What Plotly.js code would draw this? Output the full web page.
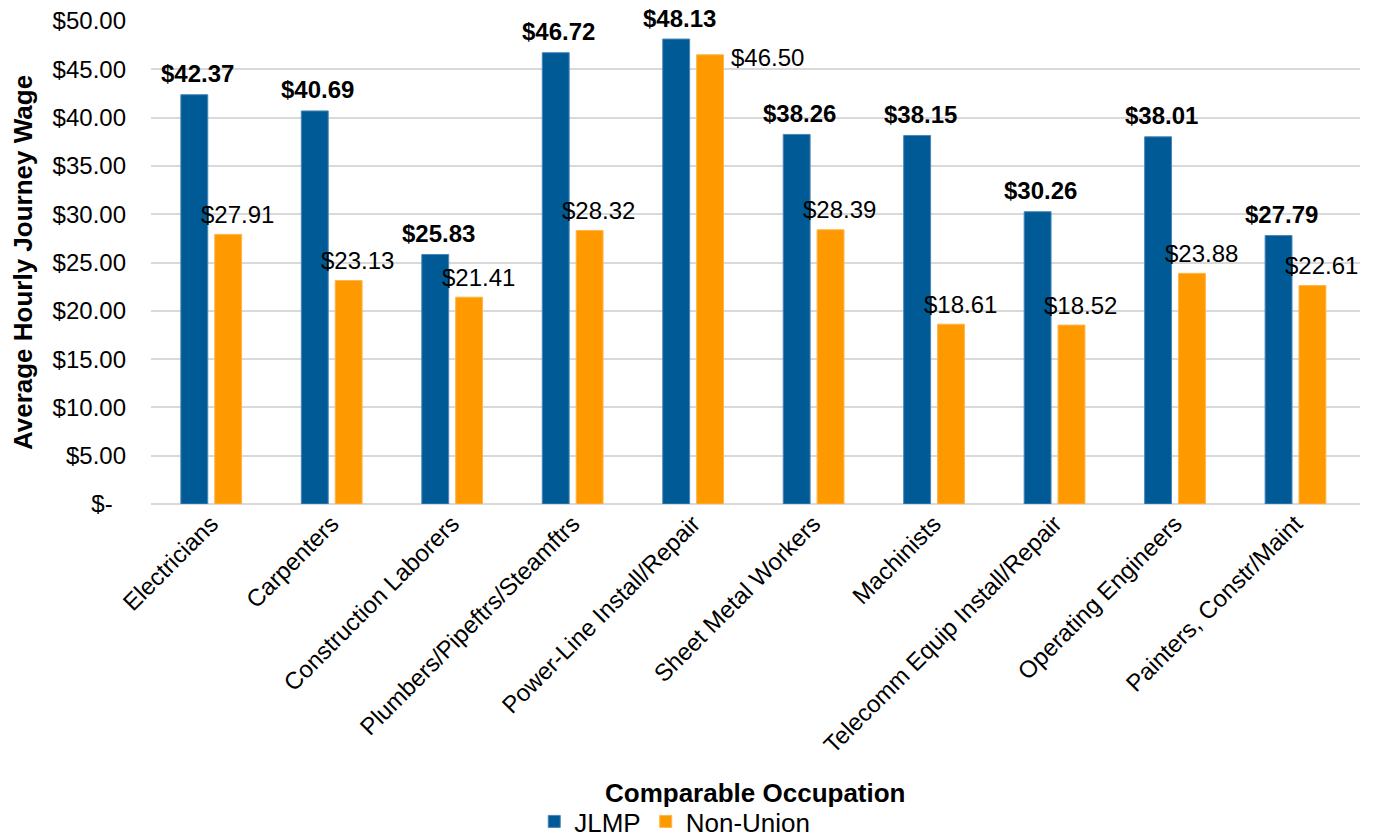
<!DOCTYPE html>
<html>
<head>
<meta charset="utf-8">
<script src="https://cdn.plot.ly/plotly-3.0.1.min.js"></script>
<style>html,body{margin:0;padding:0;background:#fff;}#chart{width:1393px;height:840px;}</style>
</head>
<body>
<div id="chart"></div>
<script>
const occupations = ["Electricians","Carpenters","Construction Laborers","Plumbers/Pipeftrs/Steamftrs","Power-Line Install/Repair","Sheet Metal Workers","Machinists","Telecomm Equip Install/Repair","Operating Engineers","Painters, Constr/Maint"];
const jlmp = [42.37, 40.69, 25.83, 46.72, 48.13, 38.26, 38.15, 30.26, 38.01, 27.79];
const nonUnion = [27.91, 23.13, 21.41, 28.32, 46.50, 28.39, 18.61, 18.52, 23.88, 22.61];
const yTickVals = [0, 5, 10, 15, 20, 25, 30, 35, 40, 45, 50];
const yTickText = ["$-\u00a0\u00a0", "$5.00", "$10.00", "$15.00", "$20.00", "$25.00", "$30.00", "$35.00", "$40.00", "$45.00", "$50.00"];
const xTitle = "Comparable Occupation";
const yTitle = "Average Hourly Journey Wage";

const FONT = "Liberation Sans, Arial, sans-serif";
const BLUE = "#005a96";
const ORANGE = "#ff9900";
const fmt = v => "$" + v.toFixed(2);

const annotations = [];
occupations.forEach((c, i) => {
  annotations.push({
    x: c, y: jlmp[i], xref: "x", yref: "y", text: "<b>" + fmt(jlmp[i]) + "</b>",
    showarrow: false, xanchor: "center", yanchor: "middle", xshift: -14, yshift: 21,
    font: {family: FONT, size: 24, color: "#000"}
  });
  const close = Math.abs(jlmp[i] - nonUnion[i]) < 4;
  annotations.push({
    x: c, y: nonUnion[i], xref: "x", yref: "y", text: fmt(nonUnion[i]),
    showarrow: false,
    xanchor: close ? "left" : "center", yanchor: "middle",
    xshift: close ? 36 : 26, yshift: close ? -3 : 20,
    font: {family: FONT, size: 24, color: "#000"}
  });
});
annotations.push({
  x: 0.5, y: -0.598, xref: "paper", yref: "paper", text: "<b>" + xTitle + "</b>",
  showarrow: false, xanchor: "center", yanchor: "middle",
  font: {family: FONT, size: 26, color: "#000"}
});

const traces = [
  {type: "bar", name: "JLMP", x: occupations, y: jlmp,
   marker: {color: BLUE, line: {color: "#4a86b8", width: 1}}, hoverinfo: "skip"},
  {type: "bar", name: "Non-Union", x: occupations, y: nonUnion,
   marker: {color: ORANGE, line: {color: "#ffb54a", width: 1}}, hoverinfo: "skip"}
];

const layout = {
  width: 1393, height: 840,
  margin: {l: 151, r: 33, t: 21, b: 336},
  paper_bgcolor: "#fff", plot_bgcolor: "#fff",
  font: {family: FONT, size: 24, color: "#000"},
  barmode: "group", bargap: 0.4376, bargroupgap: 0.206,
  showlegend: true,
  legend: {orientation: "h", xref: "paper", x: 0.317, xanchor: "left",
           yref: "container", y: 0.05, yanchor: "top",
           font: {family: FONT, size: 26, color: "#000"}, traceorder: "normal"},
  xaxis: {
    type: "category", tickangle: -45, showgrid: false, showline: false, zeroline: false,
    ticks: "", tickfont: {family: FONT, size: 24, color: "#000"},
    automargin: false
  },
  yaxis: {
    range: [0, 50], tickvals: yTickVals, ticktext: yTickText,
    showgrid: true, gridcolor: "#d9d9d9", gridwidth: 2, zeroline: true, zerolinecolor: "#d9d9d9", zerolinewidth: 2,
    showline: false, ticks: "", ticklabelstandoff: 24,
    tickfont: {family: FONT, size: 24, color: "#000"},
    title: {text: "<b>" + yTitle + "</b>", font: {family: FONT, size: 26, color: "#000"}, standoff: 12},
    automargin: false, fixedrange: true
  },
  annotations: annotations
};

Plotly.newPlot("chart", traces, layout, {displayModeBar: false, staticPlot: true});
</script>
</body>
</html>
